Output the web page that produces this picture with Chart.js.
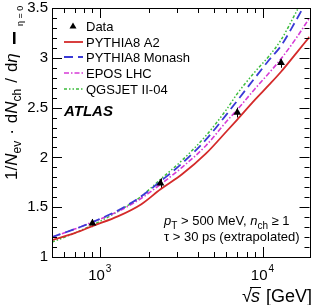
<!DOCTYPE html>
<html>
<head>
<meta charset="utf-8">
<script src="https://cdn.jsdelivr.net/npm/chart.js"></script>
<style>
  body { margin: 0; background: #fff; }
</style>
</head>
<body>
<canvas id="chart" width="314" height="305"></canvas>
<script>
// sqrt(s) in GeV and <dN/deta> at eta = 0
const energies = [508, 700, 900, 1300, 1800, 2360, 3200, 4500, 6000, 7000, 9000, 11000, 13000, 16000, 19450];
const pythiaA2 = [1.17, 1.24, 1.31, 1.41, 1.53, 1.68, 1.83, 2.04, 2.26, 2.38, 2.58, 2.73, 2.86, 3.04, 3.21];
const pythiaMonash = [1.20, 1.28, 1.35, 1.47, 1.61, 1.76, 1.94, 2.18, 2.43, 2.57, 2.80, 2.98, 3.12, 3.37, 3.62];
const eposLHC = [1.20, 1.28, 1.35, 1.46, 1.59, 1.73, 1.90, 2.12, 2.36, 2.48, 2.69, 2.85, 2.99, 3.19, 3.40];
const qgsjet = [1.15, 1.24, 1.32, 1.46, 1.61, 1.78, 1.97, 2.22, 2.48, 2.64, 2.86, 3.02, 3.18, 3.45, 3.72];

const dataEnergies = [900, 2360, 7000, 13000];
const dataValues = [1.34, 1.74, 2.45, 2.95];
const dataErrors = [0.04, 0.05, 0.05, 0.05];

const yMajor = [1, 1.5, 2, 2.5, 3, 3.5];
const yLabels = ['1', '1.5', '2', '2.5', '3', '3.5'];
const xMajor = [1000, 10000];
const xExponents = ['3', '4'];

const FONT = '"Liberation Sans", Arial, sans-serif';
const pts = (xs, ys) => xs.map((x, i) => ({ x, y: ys[i] }));

const atlasPlugin = {
    id: 'atlas',
    beforeDatasetsDraw(chart) {
        // error bars on the data points
        const { ctx, scales: { x, y } } = chart;
        ctx.save();
        ctx.strokeStyle = '#000';
        ctx.lineWidth = 1;
        dataEnergies.forEach((e, i) => {
            const px = Math.round(x.getPixelForValue(e)) + 0.5;
            ctx.beginPath();
            ctx.moveTo(px, y.getPixelForValue(dataValues[i] - dataErrors[i]));
            ctx.lineTo(px, y.getPixelForValue(dataValues[i] + dataErrors[i]));
            ctx.stroke();
        });
        ctx.restore();
    },
    afterDraw(chart) {
        const { ctx, chartArea: a, scales: { x, y } } = chart;
        ctx.save();
        ctx.strokeStyle = '#000';
        ctx.fillStyle = '#000';
        ctx.lineWidth = 1;

        // frame
        ctx.strokeRect(Math.round(a.left) + 0.5, Math.round(a.top) + 0.5,
            Math.round(a.right - a.left), Math.round(a.bottom - a.top));

        // y ticks, both sides
        ctx.beginPath();
        for (let v = 1; v <= 3.5001; v += 0.1) {
            const py = Math.round(y.getPixelForValue(v)) + 0.5;
            const major = Math.abs(v * 2 - Math.round(v * 2)) < 1e-6;
            const len = major ? 10 : 5;
            ctx.moveTo(a.left, py); ctx.lineTo(a.left + len, py);
            ctx.moveTo(a.right, py); ctx.lineTo(a.right - len, py);
        }
        // x ticks, top and bottom
        [100, 1000, 10000].forEach(dec => {
            for (let m = 1; m <= 9; m++) {
                const e = m * dec;
                if (e < x.min || e > x.max) continue;
                const px = Math.round(x.getPixelForValue(e)) + 0.5;
                const len = m === 1 ? 10 : 5;
                ctx.moveTo(px, a.bottom); ctx.lineTo(px, a.bottom - len);
                ctx.moveTo(px, a.top); ctx.lineTo(px, a.top + len);
            }
        });
        ctx.stroke();

        // y tick labels
        ctx.font = '15px ' + FONT;
        ctx.textAlign = 'right';
        ctx.textBaseline = 'middle';
        yMajor.forEach((v, i) => ctx.fillText(yLabels[i], a.left - 4, y.getPixelForValue(v)));

        // x tick labels 10^n
        xMajor.forEach((e, i) => {
            const px = x.getPixelForValue(e);
            ctx.font = '15px ' + FONT;
            ctx.textAlign = 'right';
            ctx.textBaseline = 'alphabetic';
            ctx.fillText('10', px + 5, 280);
            ctx.font = '10px ' + FONT;
            ctx.textAlign = 'left';
            ctx.fillText(xExponents[i], px + 6, 272);
        });

        // x title: sqrt(s) [GeV]
        ctx.font = '18px ' + FONT;
        ctx.textAlign = 'right';
        ctx.textBaseline = 'alphabetic';
        ctx.fillText('[GeV]', 312, 302);
        ctx.font = 'italic 18px ' + FONT;
        ctx.fillText('s', 260, 302);
        ctx.font = '18px ' + FONT;
        ctx.fillText('\u221A', 252, 302);
        ctx.beginPath();
        ctx.moveTo(250, 287.5); ctx.lineTo(261, 287.5);
        ctx.stroke();

        // y title, rotated
        ctx.save();
        ctx.translate(17, 180);
        ctx.rotate(-Math.PI / 2);
        ctx.textAlign = 'left';
        let cx = 0;
        const piece = (t, style, dy = 0, gap = 0) => {
            ctx.font = style;
            ctx.fillText(t, cx, dy);
            cx += ctx.measureText(t).width + gap;
        };
        const main = '17px ' + FONT, ital = 'italic 17px ' + FONT, sub = '12px ' + FONT;
        piece('1/', main);
        piece('N', ital);
        piece('ev', sub, 4, 6);
        piece('\u00B7', main, 0, 6);
        piece('d', main);
        piece('N', ital);
        piece('ch', sub, 4, 6);
        piece('/', main, 0, 6);
        piece('d', main);
        piece('\u03B7', ital);
        ctx.restore();
        ctx.fillRect(13, 32, 2.5, 12);
        ctx.save();
        ctx.translate(23, 26);
        ctx.rotate(-Math.PI / 2);
        ctx.font = '9px ' + FONT;
        ctx.textAlign = 'left';
        ctx.fillText('\u03B7 = 0', 0, 0);
        ctx.restore();

        // legend
        const rows = [26, 42, 57, 73, 89];
        ctx.font = '13px ' + FONT;
        ctx.textAlign = 'left';
        ctx.textBaseline = 'middle';
        chart.data.datasets.forEach((ds, i) => {
            const ry = rows[i];
            if (i === 0) {
                ctx.beginPath();
                ctx.moveTo(73, ry - 3.5); ctx.lineTo(76.5, ry + 2.5); ctx.lineTo(69.5, ry + 2.5);
                ctx.closePath();
                ctx.fill();
            } else {
                ctx.save();
                ctx.strokeStyle = ds.borderColor;
                ctx.lineWidth = ds.borderWidth;
                ctx.setLineDash(ds.borderDash || []);
                ctx.beginPath();
                ctx.moveTo(64, ry); ctx.lineTo(83, ry);
                ctx.stroke();
                ctx.restore();
            }
            ctx.fillText(ds.label, 86, ry + 1);
        });
        ctx.font = 'bold italic 15px ' + FONT;
        ctx.fillText('ATLAS', 64, 112);

        // cut annotation
        ctx.textBaseline = 'alphabetic';
        let tx = 164;
        const run = (t, style, dy = 0) => {
            ctx.font = style;
            ctx.fillText(t, tx, 225 + dy);
            tx += ctx.measureText(t).width;
        };
        const n13 = '13px ' + FONT, i13 = 'italic 13px ' + FONT, s10 = '10px ' + FONT;
        run('p', i13);
        run('T', s10, 4);
        run(' > 500 MeV, ', n13);
        run('n', i13);
        run('ch', s10, 4);
        run(' \u2265 1', n13);
        ctx.font = n13;
        ctx.fillText('\u03C4 > 30 ps (extrapolated)', 164, 241);
        ctx.restore();
    }
};

new Chart(document.getElementById('chart'), {
    type: 'line',
    data: {
        datasets: [
            {
                label: 'Data',
                data: pts(dataEnergies, dataValues),
                showLine: false,
                pointStyle: 'triangle',
                pointRadius: 4.5,
                backgroundColor: '#000',
                borderColor: '#000',
                borderWidth: 0
            },
            {
                label: 'PYTHIA8 A2',
                data: pts(energies, pythiaA2),
                borderColor: '#d42a2a',
                borderWidth: 1.8,
                pointRadius: 0,
                cubicInterpolationMode: 'monotone'
            },
            {
                label: 'PYTHIA8 Monash',
                data: pts(energies, pythiaMonash),
                borderColor: '#3a3ad6',
                borderWidth: 1.8,
                borderDash: [9, 5],
                pointRadius: 0,
                cubicInterpolationMode: 'monotone'
            },
            {
                label: 'EPOS LHC',
                data: pts(energies, eposLHC),
                borderColor: '#d63ad6',
                borderWidth: 1.6,
                borderDash: [5, 2, 1.5, 2],
                pointRadius: 0,
                cubicInterpolationMode: 'monotone'
            },
            {
                label: 'QGSJET II-04',
                data: pts(energies, qgsjet),
                borderColor: '#3cbc3c',
                borderWidth: 1.5,
                borderDash: [3, 2, 1.5, 2, 1.5, 2],
                pointRadius: 0,
                cubicInterpolationMode: 'monotone'
            }
        ]
    },
    options: {
        responsive: false,
        animation: false,
        events: [],
        layout: { padding: { left: 52, right: 4, top: 8, bottom: 48 } },
        scales: {
            x: { type: 'logarithmic', min: 508, max: 19450, display: false },
            y: { type: 'linear', min: 1, max: 3.5, display: false }
        },
        plugins: {
            legend: { display: false },
            tooltip: { enabled: false }
        }
    },
    plugins: [atlasPlugin]
});
</script>
</body>
</html>
